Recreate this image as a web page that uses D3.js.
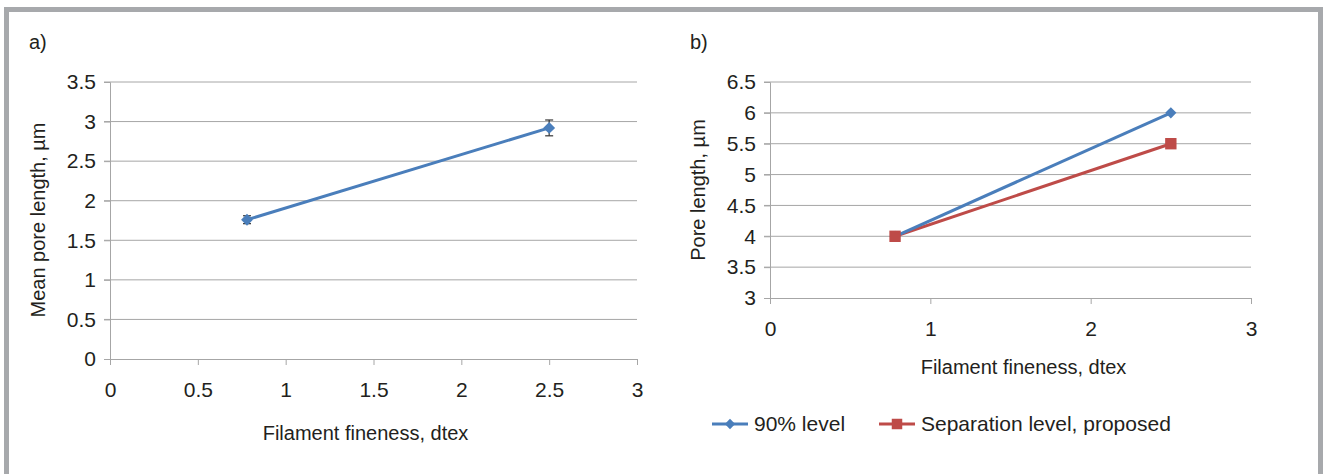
<!DOCTYPE html>
<html>
<head>
<meta charset="utf-8">
<script src="https://cdn.jsdelivr.net/npm/d3@7"></script>
<style>
  body { margin: 0; background: #fff; }
  svg text { font-family: "Liberation Sans", Arial, sans-serif; fill: #231f20; }
</style>
</head>
<body>
<svg id="chart" width="1328" height="474"></svg>
<script>
// panel a) data
var fineA = [0.78, 2.5];
var meanPore = [1.76, 2.92];
var meanErr = [0.05, 0.1];
var xTicksA = [0, 0.5, 1, 1.5, 2, 2.5, 3];
var yTicksA = [0, 0.5, 1, 1.5, 2, 2.5, 3, 3.5];

// panel b) data
var fineB = [0.78, 2.5];
var level90 = [4.0, 6.0];
var sepLevel = [4.0, 5.5];
var seriesNames = ["90% level", "Separation level, proposed"];
var xTicksB = [0, 1, 2, 3];
var yTicksB = [3, 3.5, 4, 4.5, 5, 5.5, 6, 6.5];

var blue = "#4a7ebb", red = "#be4b48", grid = "#a6a6a6";
var fs = 20, tickFs = 21;

var svg = d3.select("#chart");

// outer frame
svg.append("rect")
    .attr("x", 6.5).attr("y", 9.5)
    .attr("width", 1314).attr("height", 500)
    .attr("fill", "none")
    .attr("stroke", "#a7a9ac")
    .attr("stroke-width", 5);

function panel(opts) {
    var g = svg.append("g");
    var x = d3.scaleLinear().domain([0, 3]).range([opts.left, opts.right]);
    var y = d3.scaleLinear().domain(opts.yDomain).range([opts.bottom, opts.top]);

    // gridlines
    g.selectAll("line.grid")
        .data(opts.yTicks.slice(1))
        .enter().append("line")
        .attr("x1", opts.left - 6).attr("x2", opts.right)
        .attr("y1", function(d) { return y(d); })
        .attr("y2", function(d) { return y(d); })
        .attr("stroke", grid).attr("stroke-width", 1);

    var yAxis = g.append("g")
        .attr("transform", "translate(" + opts.left + ",0)")
        .call(d3.axisLeft(y).tickValues(opts.yTicks).tickSize(6).tickPadding(8)
            .tickFormat(d3.format("")));
    var xAxis = g.append("g")
        .attr("transform", "translate(0," + opts.bottom + ")")
        .call(d3.axisBottom(x).tickValues(opts.xTicks).tickSize(6).tickPadding(17)
            .tickFormat(d3.format("")));
    [xAxis, yAxis].forEach(function(a) {
        a.select(".domain").attr("stroke", grid);
        a.selectAll(".tick line").attr("stroke", grid);
        a.selectAll("text").attr("font-size", tickFs).attr("fill", "#231f20")
            .style("font-family", "'Liberation Sans', Arial, sans-serif");
    });

    g.append("text")
        .attr("x", opts.labelX).attr("y", 49)
        .attr("font-size", fs)
        .text(opts.tag);
    g.append("text")
        .attr("x", (opts.left + opts.right) / 2 + opts.xTitleShift)
        .attr("y", opts.bottom + opts.xTitleDy)
        .attr("text-anchor", "middle")
        .attr("font-size", fs)
        .text("Filament fineness, dtex");
    g.append("text")
        .attr("transform", "translate(" + opts.yTitleX + "," + opts.yTitleY + ") rotate(-90)")
        .attr("text-anchor", "middle")
        .attr("font-size", fs)
        .text(opts.yTitle);

    return { g: g, x: x, y: y };
}

// ---- panel a
var pa = panel({
    left: 110, right: 637, top: 82, bottom: 359,
    yDomain: [0, 3.5], yTicks: yTicksA, xTicks: xTicksA,
    tag: "a)", labelX: 29, xTitleDy: 81, xTitleShift: -8, yTitleX: 45, yTitleY: 220,
    yTitle: "Mean pore length, \u00b5m"
});

var ptsA = fineA.map(function(d, i) { return { x: d, y: meanPore[i], e: meanErr[i] }; });
var line = d3.line();

pa.g.append("path")
    .attr("d", line(ptsA.map(function(p) { return [pa.x(p.x), pa.y(p.y)]; })))
    .attr("fill", "none").attr("stroke", blue).attr("stroke-width", 3);

var eb = pa.g.selectAll("g.err").data(ptsA).enter().append("g");
eb.append("line")
    .attr("x1", function(p) { return pa.x(p.x); })
    .attr("x2", function(p) { return pa.x(p.x); })
    .attr("y1", function(p) { return pa.y(p.y + p.e); })
    .attr("y2", function(p) { return pa.y(p.y - p.e); })
    .attr("stroke", "#333").attr("stroke-width", 1.2);
[1, -1].forEach(function(s) {
    eb.append("line")
        .attr("x1", function(p) { return pa.x(p.x) - 4; })
        .attr("x2", function(p) { return pa.x(p.x) + 4; })
        .attr("y1", function(p) { return pa.y(p.y + s * p.e); })
        .attr("y2", function(p) { return pa.y(p.y + s * p.e); })
        .attr("stroke", "#333").attr("stroke-width", 1.2);
});

pa.g.selectAll("path.mk").data(ptsA).enter().append("path")
    .attr("transform", function(p) { return "translate(" + pa.x(p.x) + "," + pa.y(p.y) + ")"; })
    .attr("d", d3.symbol(d3.symbolDiamond2, 90))
    .attr("fill", blue);

// ---- panel b
var pb = panel({
    left: 770, right: 1251, top: 82, bottom: 298,
    yDomain: [3, 6.5], yTicks: yTicksB, xTicks: xTicksB,
    tag: "b)", labelX: 690, xTitleDy: 76, xTitleShift: 13, yTitleX: 705, yTitleY: 190,
    yTitle: "Pore length, \u00b5m"
});

var seriesB = [
    { name: seriesNames[0], vals: level90, color: blue, sym: d3.symbolDiamond2, size: 80 },
    { name: seriesNames[1], vals: sepLevel, color: red, sym: d3.symbolSquare2, size: 165 }
];

// draw red first so blue line sits on top except at the shared start point
[seriesB[1], seriesB[0]].forEach(function(s) {
    pb.g.append("path")
        .attr("d", line(fineB.map(function(d, i) { return [pb.x(d), pb.y(s.vals[i])]; })))
        .attr("fill", "none").attr("stroke", s.color).attr("stroke-width", 3);
});
seriesB.forEach(function(s) {
    pb.g.selectAll(null).data(fineB).enter().append("path")
        .attr("transform", function(d, i) { return "translate(" + pb.x(d) + "," + pb.y(s.vals[i]) + ")"; })
        .attr("d", d3.symbol(s.sym, s.size))
        .attr("fill", s.color);
});

// legend
var legX = [712, 879];
var legend = svg.append("g").attr("transform", "translate(0,424)");
seriesB.forEach(function(s, i) {
    var lg = legend.append("g").attr("transform", "translate(" + legX[i] + ",0)");
    lg.append("line").attr("x1", 0).attr("x2", 36).attr("y1", 0).attr("y2", 0)
        .attr("stroke", s.color).attr("stroke-width", 3);
    lg.append("path").attr("transform", "translate(18,0)")
        .attr("d", d3.symbol(s.sym, s.size * 0.85)).attr("fill", s.color);
    lg.append("text").attr("x", 42).attr("y", 7).attr("font-size", tickFs).text(s.name);
});
</script>
</body>
</html>
